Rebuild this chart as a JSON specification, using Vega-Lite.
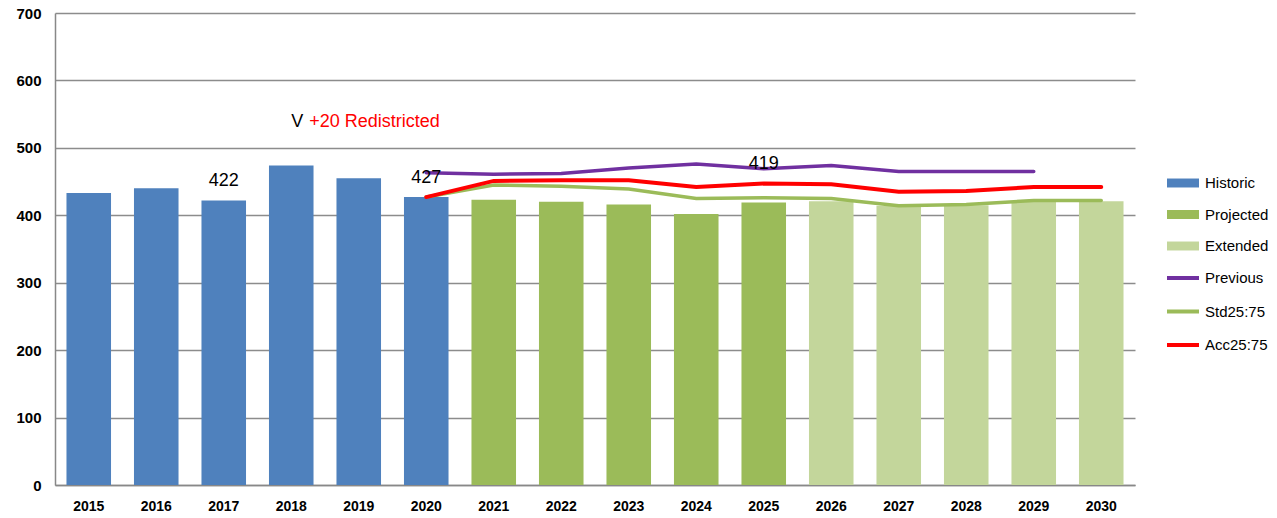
{
  "$schema": "https://vega.github.io/schema/vega-lite/v6.json",
  "width": 1080,
  "height": 472,
  "autosize": {"type": "none"},
  "padding": {"left": 55, "top": 13, "right": 142, "bottom": 33},
  "background": "white",
  "config": {
    "view": {"stroke": null},
    "font": "Liberation Sans",
    "axis": {"labelFont": "Liberation Sans", "labelColor": "black", "labelFontWeight": "bold"}
  },
  "datasets": {
    "bars": [
      {"year": "2015", "value": 433, "type": "Historic"},
      {"year": "2016", "value": 440, "type": "Historic"},
      {"year": "2017", "value": 422, "type": "Historic"},
      {"year": "2018", "value": 474, "type": "Historic"},
      {"year": "2019", "value": 455, "type": "Historic"},
      {"year": "2020", "value": 427, "type": "Historic"},
      {"year": "2021", "value": 423, "type": "Projected"},
      {"year": "2022", "value": 420, "type": "Projected"},
      {"year": "2023", "value": 416, "type": "Projected"},
      {"year": "2024", "value": 402, "type": "Projected"},
      {"year": "2025", "value": 419, "type": "Projected"},
      {"year": "2026", "value": 421, "type": "Extended"},
      {"year": "2027", "value": 414, "type": "Extended"},
      {"year": "2028", "value": 415, "type": "Extended"},
      {"year": "2029", "value": 420, "type": "Extended"},
      {"year": "2030", "value": 421, "type": "Extended"}
    ],
    "lines": [
      {"year": "2020", "series": "Previous", "value": 463},
      {"year": "2021", "series": "Previous", "value": 461},
      {"year": "2022", "series": "Previous", "value": 462},
      {"year": "2023", "series": "Previous", "value": 470},
      {"year": "2024", "series": "Previous", "value": 476},
      {"year": "2025", "series": "Previous", "value": 469},
      {"year": "2026", "series": "Previous", "value": 474},
      {"year": "2027", "series": "Previous", "value": 465},
      {"year": "2028", "series": "Previous", "value": 465},
      {"year": "2029", "series": "Previous", "value": 465},
      {"year": "2020", "series": "Std25:75", "value": 427},
      {"year": "2021", "series": "Std25:75", "value": 445},
      {"year": "2022", "series": "Std25:75", "value": 443},
      {"year": "2023", "series": "Std25:75", "value": 439},
      {"year": "2024", "series": "Std25:75", "value": 425},
      {"year": "2025", "series": "Std25:75", "value": 426},
      {"year": "2026", "series": "Std25:75", "value": 425},
      {"year": "2027", "series": "Std25:75", "value": 414},
      {"year": "2028", "series": "Std25:75", "value": 416},
      {"year": "2029", "series": "Std25:75", "value": 422},
      {"year": "2030", "series": "Std25:75", "value": 422},
      {"year": "2020", "series": "Acc25:75", "value": 427},
      {"year": "2021", "series": "Acc25:75", "value": 451},
      {"year": "2022", "series": "Acc25:75", "value": 452},
      {"year": "2023", "series": "Acc25:75", "value": 452},
      {"year": "2024", "series": "Acc25:75", "value": 442},
      {"year": "2025", "series": "Acc25:75", "value": 447},
      {"year": "2026", "series": "Acc25:75", "value": 446},
      {"year": "2027", "series": "Acc25:75", "value": 435},
      {"year": "2028", "series": "Acc25:75", "value": 436},
      {"year": "2029", "series": "Acc25:75", "value": 442},
      {"year": "2030", "series": "Acc25:75", "value": 442}
    ],
    "labels": [
      {"year": "2017", "pos": 451, "text": "422"},
      {"year": "2020", "pos": 456, "text": "427"},
      {"year": "2025", "pos": 476, "text": "419"}
    ],
    "note": [
      {"year": "2018", "pos": 538, "v": "V", "rest": "+20 Redistricted"}
    ]
  },
  "encoding": {
    "x": {
      "field": "year", "type": "ordinal",
      "scale": {"paddingInner": 0.34, "paddingOuter": 0.17},
      "axis": {"title": null, "labelAngle": 0, "labelFontSize": 14, "labelPadding": 14, "ticks": false, "domainColor": "#888888", "domainWidth": 1.5}
    }
  },
  "layer": [
    {
      "data": {"name": "bars"},
      "mark": {"type": "bar"},
      "encoding": {
        "y": {
          "field": "value", "type": "quantitative",
          "scale": {"domain": [0, 700]},
          "axis": {"title": null, "values": [0, 100, 200, 300, 400, 500, 600, 700], "labelFontSize": 15, "labelPadding": 14, "ticks": false, "grid": true, "gridColor": "#8c8c8c", "gridWidth": 1.3, "domainColor": "#888888", "domainWidth": 1.5}
        },
        "fill": {
          "field": "type", "type": "nominal",
          "scale": {"domain": ["Historic", "Projected", "Extended"], "range": ["#4F81BD", "#9BBB59", "#C3D69B"]},
          "legend": {
            "title": null, "orient": "none", "legendX": 1112, "legendY": 154,
            "symbolType": "M-1,-0.28H1V0.28H-1Z", "symbolSize": 1024, "symbolStrokeWidth": 0,
            "labelFontSize": 15, "labelFont": "Liberation Sans", "labelColor": "black", "labelOffset": 6, "rowPadding": 7.5, "padding": 0
          }
        }
      }
    },
    {
      "data": {"name": "lines"},
      "transform": [{"filter": "datum.series === 'Previous'"}],
      "mark": {"type": "line", "strokeWidth": 3.5, "strokeCap": "round"},
      "encoding": {
        "y": {"field": "value", "type": "quantitative"},
        "stroke": {
          "field": "series", "type": "nominal",
          "scale": {"domain": ["Previous", "Std25:75", "Acc25:75"], "range": ["#7030A0", "#9BBB59", "#FF0000"]},
          "legend": {
            "title": null, "orient": "none", "legendX": 1110, "legendY": 247,
            "symbolType": "stroke", "symbolSize": 1024, "symbolStrokeWidth": 4,
            "labelFontSize": 15, "labelFont": "Liberation Sans", "labelColor": "black", "labelOffset": 4, "rowPadding": 7.5, "padding": 0
          }
        }
      }
    },
    {
      "data": {"name": "lines"},
      "transform": [{"filter": "datum.series === 'Std25:75'"}],
      "mark": {"type": "line", "strokeWidth": 3.5, "strokeCap": "round"},
      "encoding": {
        "y": {"field": "value", "type": "quantitative"},
        "stroke": {"field": "series", "type": "nominal"}
      }
    },
    {
      "data": {"name": "lines"},
      "transform": [{"filter": "datum.series === 'Acc25:75'"}],
      "mark": {"type": "line", "strokeWidth": 4, "strokeCap": "round"},
      "encoding": {
        "y": {"field": "value", "type": "quantitative"},
        "stroke": {"field": "series", "type": "nominal"}
      }
    },
    {
      "data": {"name": "labels"},
      "mark": {"type": "text", "fontSize": 18, "font": "Liberation Sans", "color": "black", "baseline": "middle", "align": "center"},
      "encoding": {
        "y": {"field": "pos", "type": "quantitative"},
        "text": {"field": "text"}
      }
    },
    {
      "data": {"name": "note"},
      "mark": {"type": "text", "fontSize": 18, "font": "Liberation Sans", "color": "black", "baseline": "middle", "align": "left"},
      "encoding": {
        "y": {"field": "pos", "type": "quantitative"},
        "text": {"field": "v"}
      }
    },
    {
      "data": {"name": "note"},
      "mark": {"type": "text", "fontSize": 18, "font": "Liberation Sans", "color": "#FF0000", "baseline": "middle", "align": "left", "dx": 18},
      "encoding": {
        "y": {"field": "pos", "type": "quantitative"},
        "text": {"field": "rest"}
      }
    }
  ]
}
